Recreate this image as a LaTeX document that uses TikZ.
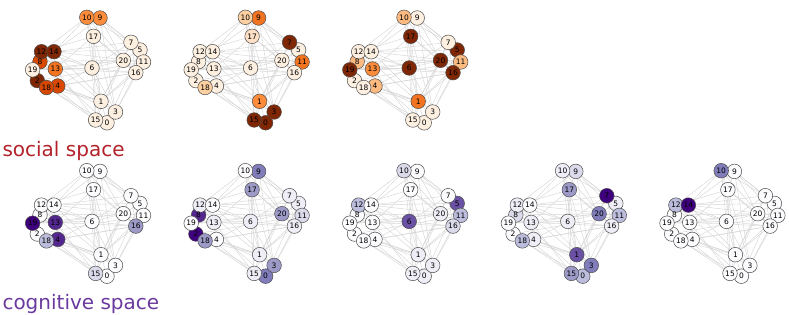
\documentclass[tikz,border=0pt]{standalone}
\usepackage{fontspec}
\setmainfont{DejaVu Sans}
\definecolor{o0}{HTML}{FEF0E1}
\definecolor{oP}{HTML}{FDE0C5}
\definecolor{o1}{HTML}{FDD0A2}
\definecolor{o2}{HTML}{FDBB82}
\definecolor{o3}{HTML}{FD8D3C}
\definecolor{o4}{HTML}{F27421}
\definecolor{o5}{HTML}{D94801}
\definecolor{o7}{HTML}{7F2704}
\definecolor{p0}{HTML}{FCFBFD}
\definecolor{p1}{HTML}{EFEDF5}
\definecolor{p2}{HTML}{DADAEB}
\definecolor{p3}{HTML}{BCBDDC}
\definecolor{p4}{HTML}{9E9AC8}
\definecolor{p5}{HTML}{807DBA}
\definecolor{p6}{HTML}{6A51A3}
\definecolor{p7}{HTML}{54278F}
\definecolor{p8}{HTML}{3F007D}
\definecolor{socialred}{HTML}{B3222B}
\definecolor{cogpurple}{HTML}{6B3A9E}
\newcommand{\layout}{0/107/122.8,1/101/101.3,2/37.3/80.6,3/115.5/112,4/57.8/86,5/140/50,6/92/68,7/131/42.3,8/40/61.6,9/100/18,10/86.8/17.3,11/143.5/62,12/41.5/51.7,13/55.3/69,14/54/51.7,15/95.6/120,16/135.8/72.7,17/93.5/36.3,18/46.5/87.5,19/32.6/69.8,20/123.3/60.3}
\newcommand{\edgelist}{10/9,10/17,9/17,10/12,10/14,9/14,10/7,9/5,9/7,17/6,17/1,17/15,10/1,9/3,10/6,9/20,17/20,17/12,17/13,17/16,12/14,12/8,12/19,14/13,8/19,19/2,2/18,18/4,13/4,8/13,14/8,19/13,12/13,12/6,14/6,19/6,13/6,4/6,8/20,19/20,13/20,14/7,12/5,13/16,4/16,18/16,2/11,14/11,12/1,19/15,2/15,18/1,4/1,4/3,18/0,13/15,8/0,14/3,2/1,6/20,6/16,6/1,6/15,6/3,6/7,7/5,7/20,5/11,20/11,11/16,20/16,5/20,7/16,7/1,20/1,16/3,11/3,16/1,5/0,20/15,11/1,1/3,1/15,3/0,15/0,1/0,3/15,10/16,9/11,17/3}
\newcommand{\panel}[3]{%
  \begin{scope}[shift={#2}]
    \foreach \n/\x/\y in \layout \coordinate (#1\n) at (\x,\y);
    \foreach \u/\v in \edgelist \draw[edge] (#1\u) -- (#1\v);
    \foreach \n/\c in {#3} \node[vtx,fill=\c] (#1v\n) at (#1\n) {};
    \foreach \n in {0,...,20} \node[vlabel] (#1l\n) at (#1\n) {\n};
  \end{scope}}
\begin{document}
\begin{tikzpicture}[x=1pt,y=-1pt,
  vtx/.style={circle,draw=black!70,line width=0.5pt,minimum size=14.6pt,inner sep=0pt},
  vlabel/.style={font=\fontsize{7.5}{8}\selectfont,inner sep=0pt},
  edge/.style={draw=black!16,line width=0.45pt},
  spacelabel/.style={anchor=base west,inner sep=0pt,font=\fontsize{20}{24}\selectfont}]
  \useasboundingbox (0,0) rectangle (789,314);
  \panel{a}{(0,0)}{0/o0,1/o0,2/o7,3/o0,4/o5,5/o0,6/o0,7/o0,8/o5,9/o3,10/o3,11/o0,12/o7,13/o4,14/o7,15/o0,16/o0,17/o0,18/o5,19/o0,20/o0}
  \panel{b}{(158.6,0)}{0/o7,1/o3,2/o0,3/o7,4/o0,5/o0,6/o0,7/o7,8/o0,9/o4,10/o1,11/o4,12/o0,13/o0,14/o0,15/o7,16/o0,17/oP,18/o1,19/o0,20/o0}
  \panel{c}{(317.2,0)}{0/o0,1/o4,2/o0,3/o0,4/o2,5/o7,6/o7,7/o0,8/o2,9/o0,10/o2,11/o2,12/o0,13/o3,14/o0,15/o0,16/o7,17/o7,18/o0,19/o7,20/o7}
  \panel{d}{(0,153.4)}{0/p0,1/p0,2/p0,3/p0,4/p7,5/p0,6/p0,7/p0,8/p0,9/p0,10/p0,11/p0,12/p0,13/p7,14/p0,15/p2,16/p4,17/p0,18/p3,19/p8,20/p0}
  \panel{e}{(158.6,153.4)}{0/p5,1/p1,2/p8,3/p4,4/p0,5/p1,6/p1,7/p1,8/p7,9/p5,10/p0,11/p2,12/p1,13/p1,14/p0,15/p1,16/p1,17/p4,18/p4,19/p0,20/p4}
  \panel{f}{(317.2,153.4)}{0/p1,1/p1,2/p0,3/p1,4/p0,5/p6,6/p6,7/p0,8/p0,9/p0,10/p2,11/p3,12/p3,13/p0,14/p0,15/p1,16/p2,17/p0,18/p0,19/p0,20/p1}
  \panel{g}{(475.8,153.4)}{0/p3,1/p6,2/p0,3/p5,4/p1,5/p1,6/p1,7/p8,8/p2,9/p2,10/p1,11/p3,12/p1,13/p1,14/p0,15/p4,16/p1,17/p4,18/p3,19/p0,20/p5}
  \panel{h}{(634.4,153.4)}{0/p0,1/p0,2/p0,3/p0,4/p0,5/p0,6/p0,7/p0,8/p0,9/p0,10/p5,11/p0,12/p3,13/p0,14/p8,15/p0,16/p0,17/p0,18/p0,19/p0,20/p0}
  \node[spacelabel,text=socialred] (social) at (2.3,156) {social space};
  \node[spacelabel,text=cogpurple] (cognitive) at (2.3,309) {cognitive space};
\end{tikzpicture}
\end{document}
